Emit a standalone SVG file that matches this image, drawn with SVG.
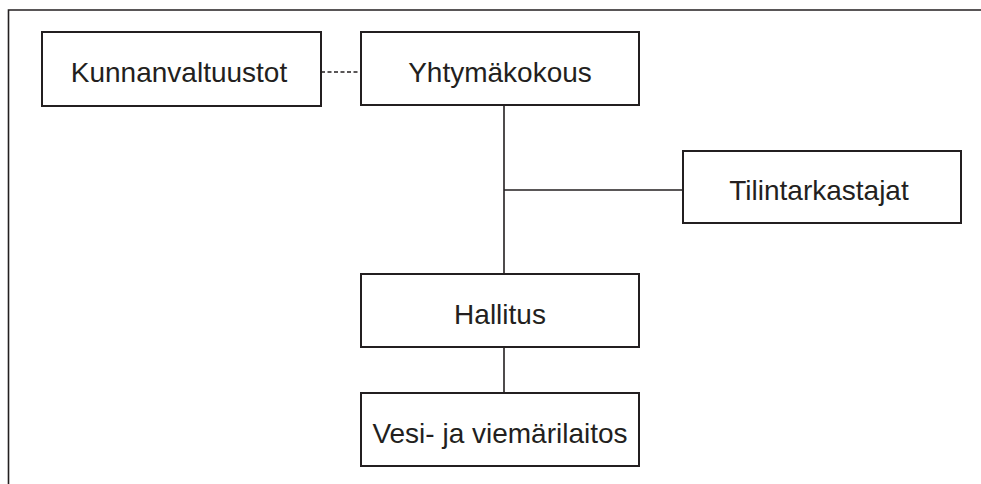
<svg xmlns="http://www.w3.org/2000/svg" width="981" height="484" viewBox="0 0 981 484">
  <style>
    .box { fill: #ffffff; stroke: #231f20; stroke-width: 2; }
    .lbl { font-family: "Liberation Sans", Arial, sans-serif; font-size: 28px; fill: #231f20; text-anchor: middle; }
    .ln { stroke: #231f20; stroke-width: 1.6; fill: none; }
    .dash { stroke-dasharray: 4 2.5; }
  </style>
  <rect width="981" height="484" fill="#ffffff"/>
  <!-- frame: top and left edges -->
  <path d="M8.5 484 V10 H981" class="ln" stroke-width="2"/>

  <g id="connectors">
    <line class="ln dash" x1="321" y1="72" x2="361" y2="72"/>
    <line class="ln" x1="504" y1="105" x2="504" y2="274"/>
    <line class="ln" x1="504" y1="190" x2="683" y2="190"/>
    <line class="ln" x1="504" y1="347" x2="504" y2="393"/>
  </g>

  <g id="kunnanvaltuustot">
    <rect class="box" x="42" y="32" width="279" height="74"/>
    <text class="lbl" x="179" y="82">Kunnanvaltuustot</text>
  </g>
  <g id="yhtymakokous">
    <rect class="box" x="361" y="32" width="278" height="73"/>
    <text class="lbl" x="500" y="82">Yhtymäkokous</text>
  </g>
  <g id="tilintarkastajat">
    <rect class="box" x="683" y="151" width="278" height="72"/>
    <text class="lbl" x="819" y="200">Tilintarkastajat</text>
  </g>
  <g id="hallitus">
    <rect class="box" x="361" y="274" width="278" height="73"/>
    <text class="lbl" x="500" y="324">Hallitus</text>
  </g>
  <g id="vesi">
    <rect class="box" x="361" y="393" width="278" height="73"/>
    <text class="lbl" x="500" y="443">Vesi- ja viemärilaitos</text>
  </g>
</svg>
